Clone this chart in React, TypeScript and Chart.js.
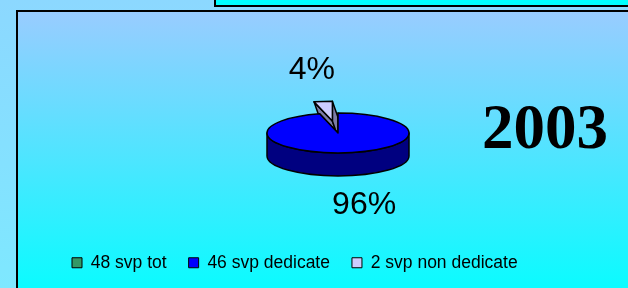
import React, { useEffect, useRef } from 'react';
import { Chart, registerables } from 'chart.js';

Chart.register(...registerables);

const categories = ['48 svp tot', '46 svp dedicate', '2 svp non dedicate'];
const values = [0, 46, 2];
const topColors = ['#339966', '#0000FF', '#CCCCFF'];
const sideColors = ['#1A4D33', '#000080', '#7C7CA6'];
const explode = [0, 0, 43];
const yearLabel = '2003';

const TILT = 0.28;
const DEPTH = 23;
const SKEW = 8;
const LABEL_RX = 200;
const LABEL_RY = 68;
const SANS = '"Liberation Sans", Arial, sans-serif';

export default function App() {
  const ref = useRef<HTMLCanvasElement>(null);

  useEffect(() => {
    const canvas = ref.current;
    if (!canvas) return;

    const pie3d = {
      id: 'pie3d',
      beforeDatasetsDraw(chart: any) {
        const ctx = chart.ctx as CanvasRenderingContext2D;
        const meta = chart.getDatasetMeta(0);
        const data = chart.data.datasets[0].data as number[];
        const total = data.reduce((s, v) => s + v, 0);
        const items = meta.data
          .map((arc: any, i: number) => {
            const p = arc.getProps(['x', 'y', 'startAngle', 'endAngle', 'outerRadius'], true);
            const mid = (p.startAngle + p.endAngle) / 2;
            const off = arc.options.offset || 0;
            return {
              i,
              x0: p.x,
              y0: p.y,
              cx: p.x + Math.cos(mid) * off,
              cy: p.y + Math.sin(mid) * off * TILT,
              r: p.outerRadius,
              a0: p.startAngle,
              a1: p.endAngle,
              mid,
              skew: off > 0 ? SKEW : 0,
            };
          })
          .filter((it: any) => it.a1 - it.a0 > 1e-6);
        items.sort((a: any, b: any) => Math.sin(a.mid) - Math.sin(b.mid));

        ctx.save();
        ctx.lineWidth = 1.5;
        ctx.strokeStyle = '#000';
        ctx.lineJoin = 'round';
        for (const it of items) {
          const rx = it.r;
          const ry = it.r * TILT;
          const pt = (a: number) => [it.cx + rx * Math.cos(a), it.cy + ry * Math.sin(a)];
          const dx = it.skew;
          const dy = DEPTH;
          ctx.fillStyle = sideColors[it.i];
          if (it.a1 - it.a0 < 2 * Math.PI - 1e-6) {
            for (const a of [it.a0, it.a1]) {
              const [ex, ey] = pt(a);
              ctx.beginPath();
              ctx.moveTo(it.cx, it.cy);
              ctx.lineTo(ex, ey);
              ctx.lineTo(ex + dx, ey + dy);
              ctx.lineTo(it.cx + dx, it.cy + dy);
              ctx.closePath();
              ctx.fill();
              ctx.stroke();
            }
          }
          for (let k = -1; k <= 1; k++) {
            const s = Math.max(it.a0, 2 * Math.PI * k);
            const e = Math.min(it.a1, 2 * Math.PI * k + Math.PI);
            if (e - s > 1e-6) {
              ctx.beginPath();
              ctx.ellipse(it.cx, it.cy, rx, ry, 0, s, e, false);
              const [ex, ey] = pt(e);
              ctx.lineTo(ex + dx, ey + dy);
              ctx.ellipse(it.cx + dx, it.cy + dy, rx, ry, 0, e, s, true);
              ctx.closePath();
              ctx.fill();
              ctx.stroke();
            }
          }
          ctx.fillStyle = topColors[it.i];
          ctx.beginPath();
          ctx.moveTo(it.cx, it.cy);
          ctx.ellipse(it.cx, it.cy, rx, ry, 0, it.a0, it.a1, false);
          ctx.closePath();
          ctx.fill();
          ctx.stroke();
        }

        ctx.fillStyle = '#000';
        ctx.font = `32px ${SANS}`;
        ctx.textAlign = 'center';
        ctx.textBaseline = 'middle';
        for (const it of items) {
          const v = data[it.i];
          if (!v) continue;
          const pct = Math.round((v / total) * 100) + '%';
          ctx.fillText(pct, it.x0 + LABEL_RX * Math.cos(it.mid), it.y0 + LABEL_RY * Math.sin(it.mid) + 5);
        }
        ctx.restore();
        return false;
      },
      afterDraw(chart: any) {
        const ctx = chart.ctx as CanvasRenderingContext2D;
        ctx.save();
        ctx.fillStyle = '#000';
        ctx.font = 'bold 63px "Liberation Serif", "Times New Roman", serif';
        ctx.textAlign = 'center';
        ctx.textBaseline = 'alphabetic';
        ctx.fillText(yearLabel, 545, 148);
        ctx.restore();
      },
    };

    const chart = new Chart(canvas, {
      type: 'pie',
      data: {
        labels: categories,
        datasets: [
          {
            data: values,
            backgroundColor: topColors,
            offset: explode,
            borderWidth: 0,
          },
        ],
      },
      options: {
        responsive: false,
        animation: false,
        events: [],
        radius: 71,
        layout: { padding: { left: 50, right: 2, top: 34, bottom: 6.5 } },
        plugins: {
          tooltip: { enabled: false },
          legend: {
            position: 'bottom',
            align: 'start',
            labels: {
              boxWidth: 10,
              boxHeight: 10,
              padding: 22,
              color: '#000',
              font: { family: SANS, size: 17.5 },
              generateLabels: () =>
                categories.map((c, i) => ({
                  text: c,
                  fillStyle: topColors[i],
                  strokeStyle: '#000',
                  lineWidth: 1,
                  hidden: false,
                  index: i,
                  fontColor: '#000',
                })),
            },
          },
        },
      } as any,
      plugins: [pie3d as any],
    });

    return () => chart.destroy();
  }, []);

  return (
    <div style={{ position: 'absolute', left: 0, top: 0, width: 628, height: 288, overflow: 'hidden', background: 'linear-gradient(to bottom, #8CD8FF, #7EE8FF)' }}>
      <div style={{ position: 'absolute', left: 214, top: -10, width: 430, height: 17, boxSizing: 'border-box', border: '2px solid #000', background: '#00FFFF' }} />
      <div style={{ position: 'absolute', left: 16, top: 10, width: 630, height: 300, boxSizing: 'border-box', border: '2px solid #000', background: 'linear-gradient(to bottom, #99CCFF, #00FFFF)' }} />
      <canvas ref={ref} width={628} height={288} style={{ position: 'absolute', left: 0, top: 0, width: 628, height: 288 }} />
    </div>
  );
}
